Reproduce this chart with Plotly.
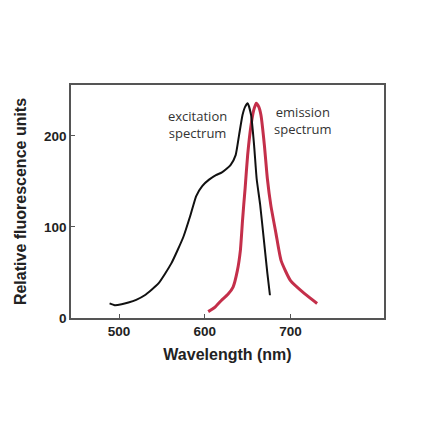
import plotly.graph_objects as go

# excitation spectrum (black)
ex_wl = [489, 495, 503, 511, 520, 530, 546, 561, 575, 583, 590, 597, 605, 613, 620,
         630, 636, 640, 644, 647, 650, 654, 657.5, 660.5, 664.5, 669, 673, 676]
ex_val = [16, 14, 15, 17, 20, 25, 38, 60, 89, 112, 134, 145, 152, 157, 160,
          168, 179, 201, 223, 232, 236, 223, 190, 153, 125, 85, 49, 25]

# emission spectrum (red)
em_wl = [604, 612, 619, 627, 633, 638, 641.5, 644, 645.5, 647, 650, 654, 657,
         660, 663, 665.5, 669.5, 673, 677, 683, 689, 700, 716, 731]
em_val = [7, 12, 19, 26, 34, 52, 74, 107, 125, 142, 179, 212, 228,
          236, 232, 223, 190, 153, 124, 93, 63, 41, 27, 16]

x_ticks = [500, 600, 700]
y_ticks = [0, 100, 200]

axis_color = '#555555'
ink = '#222222'

fig = go.Figure()

fig.add_trace(go.Scatter(x=em_wl, y=em_val, mode='lines',
                         line=dict(color='#c42f4a', width=3, shape='spline', smoothing=0.5),
                         name='emission'))
fig.add_trace(go.Scatter(x=ex_wl, y=ex_val, mode='lines',
                         line=dict(color='#111111', width=2, shape='spline', smoothing=0.5),
                         name='excitation'))

# curve labels
label_font = dict(family='Open Sans', size=13, color='#333333')
fig.add_annotation(x=592, y=213, text='excitation<br>spectrum', showarrow=False,
                   font=label_font, align='center')
fig.add_annotation(x=715, y=217, text='emission<br>spectrum', showarrow=False,
                   font=label_font, align='center')

fig.update_layout(
    width=440, height=441,
    margin=dict(l=61, r=64, t=77, b=131),
    plot_bgcolor='white', paper_bgcolor='white',
    showlegend=False,
    font=dict(family='Liberation Sans', size=12, color=ink),
)

fig.update_xaxes(range=[444, 809], tickvals=x_ticks, ticks='inside', ticklen=4,
                 tickcolor=axis_color, showline=True, linecolor=axis_color, linewidth=1.5,
                 mirror=True, showgrid=False, zeroline=False,
                 tickfont=dict(family='Liberation Sans', size=13.5, color=ink, weight='bold'),
                 title=dict(text='Wavelength (nm)', standoff=11,
                            font=dict(family='Liberation Sans', size=16, color=ink, weight='bold')))

fig.update_yaxes(range=[0, 256], tickvals=y_ticks, ticks='inside', ticklen=4,
                 tickcolor=axis_color, showline=True, linecolor=axis_color, linewidth=1.5,
                 mirror=True, showgrid=False, zeroline=False,
                 tickfont=dict(family='Liberation Sans', size=13.5, color=ink, weight='bold'),
                 title=dict(text='Relative fluorescence units', standoff=13,
                            font=dict(family='Liberation Sans', size=16, color=ink, weight='bold')))

fig.write_html("out.html")
